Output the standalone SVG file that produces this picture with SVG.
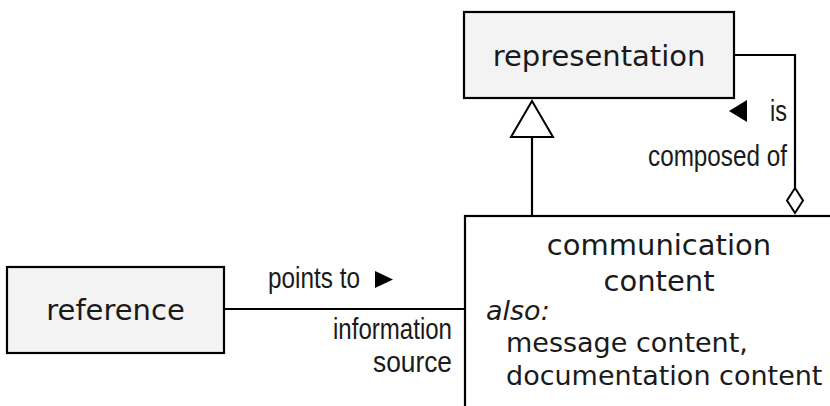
<svg xmlns="http://www.w3.org/2000/svg" width="830" height="406" viewBox="0 0 830 406">
<style>
.box{stroke:#000;stroke-width:2.2}
.gray{fill:#f3f3f3}
.white{fill:#fff}
.t{font-family:"DejaVu Sans",Verdana,sans-serif;font-size:29px;fill:#1a1a1a}
.s{font-family:"DejaVu Sans",Verdana,sans-serif;font-size:27px;fill:#1a1a1a}
.n{font-family:"Liberation Sans Narrow","Liberation Sans",Arial,sans-serif;font-size:29px;fill:#1a1a1a}
.ln{fill:none;stroke:#000;stroke-width:2.2}
</style>
<rect width="830" height="406" fill="#fff"/>
<g id="connectors">
  <path class="ln" d="M224,309 H465"/>
  <path class="ln" d="M734,55 H795 V188"/>
  <path d="M795,188 L803,200.5 L795,213 L787,200.5 Z" fill="#fff" stroke="#000" stroke-width="2"/>
  <path class="ln" d="M532,137 V217"/>
  <path d="M532,101 L553,137 L511,137 Z" fill="#fff" stroke="#000" stroke-width="2"/>
  <text class="n" x="268" y="288" textLength="92" lengthAdjust="spacingAndGlyphs">points to</text>
  <path d="M375,271 L393,279.5 L375,288 Z" fill="#000"/>
  <text class="n" x="452" y="339" text-anchor="end" textLength="119" lengthAdjust="spacingAndGlyphs">information</text>
  <text class="n" x="452" y="372" text-anchor="end" textLength="79" lengthAdjust="spacingAndGlyphs">source</text>
  <path d="M729,111 L747,100 L747,122 Z" fill="#000"/>
  <text class="n" x="787" y="121" text-anchor="end" textLength="17" lengthAdjust="spacingAndGlyphs">is</text>
  <text class="n" x="787" y="166" text-anchor="end" textLength="139" lengthAdjust="spacingAndGlyphs">composed of</text>
</g>
<g id="representation">
  <rect class="box gray" x="464" y="12" width="270" height="86"/>
  <text class="t" x="599" y="66" text-anchor="middle">representation</text>
</g>
<g id="reference">
  <rect class="box gray" x="7" y="267" width="217" height="86"/>
  <text class="t" x="115.5" y="320" text-anchor="middle">reference</text>
</g>
<g id="communication-content">
  <rect class="box white" x="465" y="216" width="400" height="200"/>
  <text class="t" x="659" y="255" text-anchor="middle">communication</text>
  <text class="t" x="659" y="291" text-anchor="middle">content</text>
  <text class="s" x="486" y="320" font-style="italic" font-size="23">also:</text>
  <text class="s" x="506" y="352">message content,</text>
  <text class="s" x="506" y="385">documentation content</text>
</g>
</svg>
